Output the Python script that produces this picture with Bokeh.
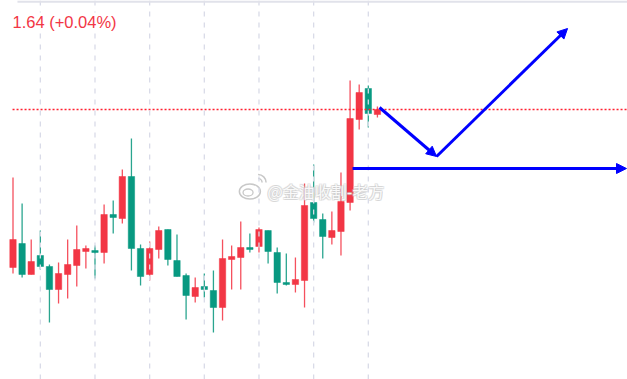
from bokeh.plotting import figure
from bokeh.models import Range1d, Span, Label, Arrow, NormalHead, BoxAnnotation, ColumnDataSource
from bokeh.core.properties import value
from bokeh.embed import file_html
from bokeh.resources import INLINE

# ---- data ----
opens = [1.482, 1.506, 1.475, 1.494, 1.483, 1.460, 1.475, 1.484, 1.498, 1.499,
         1.497, 1.535, 1.531, 1.573, 1.501, 1.475, 1.500, 1.520, 1.489, 1.474,
         1.453, 1.463, 1.459, 1.442, 1.490, 1.492, 1.502, 1.503, 1.519, 1.497,
         1.467, 1.465, 1.469, 1.547, 1.530, 1.512, 1.518, 1.547, 1.630, 1.661,
         1.635]
highs = [1.572, 1.546, 1.510, 1.519, 1.485, 1.487, 1.510, 1.524, 1.504, 1.504,
         1.545, 1.549, 1.580, 1.611, 1.505, 1.508, 1.523, 1.520, 1.515, 1.476,
         1.472, 1.476, 1.479, 1.510, 1.504, 1.528, 1.516, 1.522, 1.519, 1.502,
         1.496, 1.492, 1.566, 1.585, 1.536, 1.538, 1.577, 1.669, 1.665, 1.664,
         1.643]
lows = [1.476, 1.472, 1.475, 1.480, 1.427, 1.446, 1.451, 1.463, 1.481, 1.471,
        1.486, 1.516, 1.526, 1.479, 1.464, 1.469, 1.491, 1.484, 1.473, 1.430,
        1.447, 1.452, 1.417, 1.429, 1.460, 1.460, 1.497, 1.497, 1.486, 1.456,
        1.464, 1.457, 1.442, 1.527, 1.491, 1.505, 1.494, 1.539, 1.620, 1.622,
        1.632]
closes = [1.510, 1.475, 1.488, 1.483, 1.460, 1.476, 1.485, 1.500, 1.501, 1.497,
          1.535, 1.532, 1.573, 1.501, 1.473, 1.501, 1.519, 1.490, 1.473, 1.454,
          1.462, 1.460, 1.442, 1.491, 1.493, 1.502, 1.500, 1.520, 1.498, 1.467,
          1.465, 1.470, 1.544, 1.531, 1.513, 1.519, 1.548, 1.631, 1.657, 1.636,
          1.640]
last_price = 1.640
last_price_label = "1.64 (+0.04%)"
watermark = "@金油收割-老方"
grid_every = 6
# hand-drawn projection arrows (bar index, price)
path_x = [40.23, 46.49, 60.87]
path_y = [1.642, 1.593, 1.721]
level_x = [37.27, 67.34]
level_y = [1.581, 1.581]

UP = "#f23645"
DOWN = "#089981"
UP_WICK = "#f5505e"
DOWN_WICK = "#2aa58f"

idx = list(range(len(opens)))
colors = [UP if c >= o else DOWN for o, c in zip(opens, closes)]
wick_colors = [UP_WICK if c >= o else DOWN_WICK for o, c in zip(opens, closes)]
tops = [max(o, c) for o, c in zip(opens, closes)]
bottoms = [min(o, c) for o, c in zip(opens, closes)]
src = ColumnDataSource(dict(x=idx, o=opens, h=highs, l=lows, c=closes,
                            top=tops, bottom=bottoms, color=colors, wcolor=wick_colors))

p = figure(width=627, height=379, output_backend="svg", toolbar_location=None,
           x_range=Range1d(-1.372, 67.45), y_range=Range1d(1.370, 1.749),
           min_border=0, min_border_left=0, min_border_right=0,
           min_border_top=0, min_border_bottom=0)
p.axis.visible = False
p.grid.visible = False
p.outline_line_color = None
p.background_fill_color = "white"
p.border_fill_color = "white"

# vertical dashed grid lines every 6 bars
for gx in idx[3::grid_every]:
    p.add_layout(Span(location=gx, dimension="height", line_color="#d9dbe8",
                      line_width=1.3, line_dash="5 6"))

# top band
p.add_layout(BoxAnnotation(left=0.49, right=67.45, bottom=1.7468, top=1.749,
                           fill_color="#e1e2ea", fill_alpha=1, line_color=None))

# candles
p.segment(x0="x", y0="h", x1="x", y1="l", line_color="wcolor", line_width=1.3, source=src)
p.vbar(x="x", width=0.7, top="top", bottom="bottom", fill_color="color",
       line_color="color", line_width=0.5, source=src)

# last price dotted line
p.segment(x0=[-0.05], y0=[last_price], x1=[67.45], y1=[last_price],
          line_color="#ff2030", line_width=1.4, line_dash="2 2")

# last price label
p.add_layout(Label(x=-0.06, y=1.728, text=last_price_label, text_color=UP,
                   text_font="Liberation Sans", text_font_size="16.5px",
                   text_baseline="middle", background_fill_color="white",
                   background_fill_alpha=1))

# watermark: weibo-like logo + text
WM = "#c8c8c8"
p.ellipse(x=[26.0], y=[1.558], width=[21], height=[15], width_units="screen",
          height_units="screen", fill_color="white", fill_alpha=0.6,
          line_color=WM, line_width=1.5)
p.ellipse(x=[25.8], y=[1.557], width=[10], height=[7], width_units="screen",
          height_units="screen", fill_color=None, line_color=WM, line_width=1.3)
p.arc(x=[26.9], y=[1.567], radius=[4], radius_units="screen", start_angle=0,
      end_angle=1.57, line_color=WM, line_width=1.5)
p.arc(x=[26.9], y=[1.567], radius=[8], radius_units="screen", start_angle=0,
      end_angle=1.57, line_color=WM, line_width=1.5)
for dx, dy in [(-1, 0), (1, 0), (0, -1), (0, 1), (-1, -1), (1, 1), (1, -1), (-1, 1)]:
    p.text(x=[27.94], y=[1.559], text=[watermark], x_offset=dx, y_offset=dy,
           text_font=value("Noto Sans CJK SC"), text_font_size="16px",
           text_baseline="middle", text_color=WM, text_alpha=0.35)
p.text(x=[27.94], y=[1.559], text=[watermark], text_font=value("Noto Sans CJK SC"),
       text_font_size="16px", text_baseline="middle", text_color="white", text_alpha=0.9)

# projection arrows
BLUE = "#0000ff"
for i in range(len(path_x) - 1):
    p.add_layout(Arrow(end=NormalHead(size=10, fill_color=BLUE, line_color=BLUE),
                       x_start=path_x[i], y_start=path_y[i],
                       x_end=path_x[i + 1], y_end=path_y[i + 1],
                       line_color=BLUE, line_width=3))
p.add_layout(Arrow(end=NormalHead(size=10, fill_color=BLUE, line_color=BLUE),
                   x_start=level_x[0], y_start=level_y[0],
                   x_end=level_x[1], y_end=level_y[1],
                   line_color=BLUE, line_width=3))

open("out.html", "w").write(file_html(p, INLINE))
